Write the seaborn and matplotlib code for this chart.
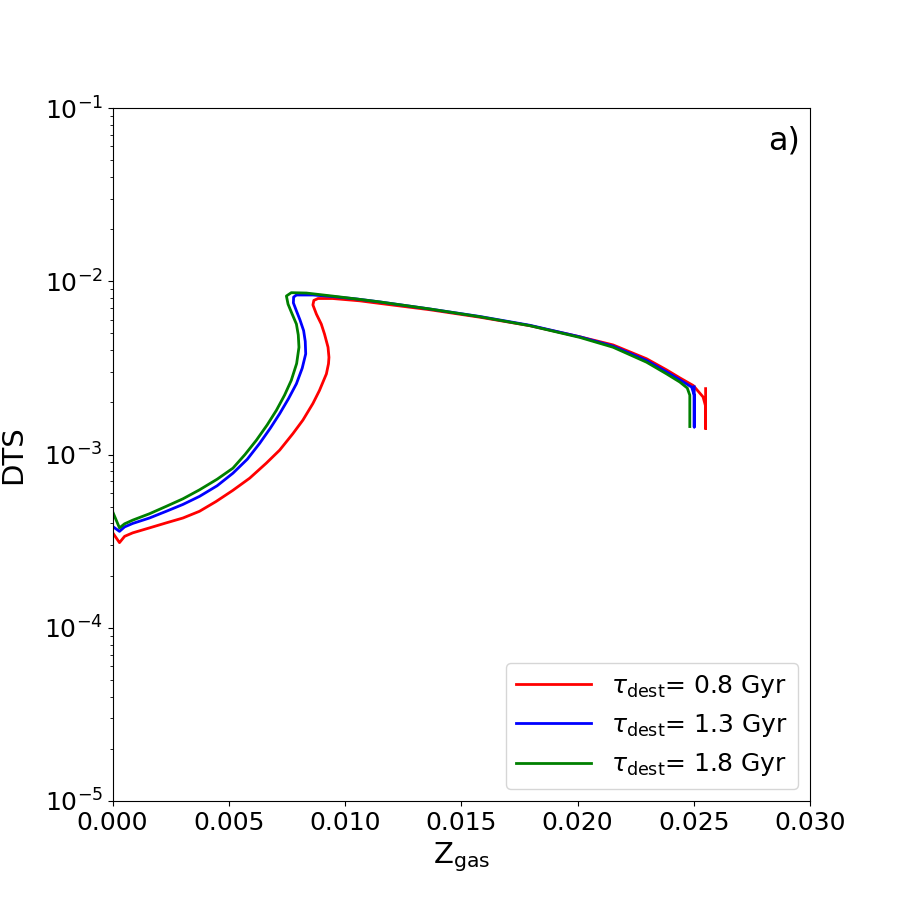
import matplotlib
matplotlib.use('Agg')

import numpy as np
import pandas as pd
import matplotlib.pyplot as plt
import seaborn as sns
from matplotlib.ticker import FormatStrFormatter

# ─────────────────────────────────────────
# 데이터
# ─────────────────────────────────────────
red_z = [0, 0, 0.0003, 0.00052, 0.00087, 0.00159, 0.00231, 0.00303, 0.00374, 0.00445,
         0.00517, 0.0059, 0.00661, 0.00719, 0.00776, 0.00819, 0.00862, 0.0089, 0.0092,
         0.00929, 0.00931, 0.00927, 0.00912, 0.00898, 0.00877, 0.00862, 0.00866, 0.00884,
         0.00947, 0.01063, 0.01149, 0.01364, 0.0158, 0.01795, 0.0201, 0.02153, 0.02297,
         0.02383, 0.0244, 0.02498, 0.0254, 0.02551, 0.02551, 0.02551]
red_dts = [1e-5, 3.55e-4, 3.1e-4, 3.37e-4, 3.53e-4, 3.77e-4, 4.03e-4, 4.3e-4, 4.7e-4, 5.35e-4,
           6.2e-4, 7.3e-4, 8.9e-4, 1.06e-3, 1.32e-3, 1.58e-3, 1.97e-3, 2.34e-3, 2.92e-3,
           3.34e-3, 3.64e-3, 4.16e-3, 4.95e-3, 5.66e-3, 6.46e-3, 7.3e-3, 7.75e-3, 7.95e-3,
           7.95e-3, 7.71e-3, 7.45e-3, 6.85e-3, 6.2e-3, 5.54e-3, 4.78e-3, 4.29e-3, 3.57e-3,
           3.08e-3, 2.77e-3, 2.5e-3, 2.15e-3, 1.9e-3, 1.41e-3, 2.4e-3]

blue_z = [0, 0, 0.0003, 0.00052, 0.00087, 0.00159, 0.00231, 0.00303, 0.00374, 0.0045,
          0.00518, 0.0058, 0.00633, 0.00679, 0.00719, 0.00757, 0.00791, 0.00816, 0.00831,
          0.00829, 0.00822, 0.00806, 0.00791, 0.00778, 0.00779, 0.00791, 0.00862, 0.0095,
          0.0105, 0.01149, 0.01364, 0.0158, 0.01795, 0.0201, 0.02153, 0.02297, 0.02383,
          0.0244, 0.02491, 0.02502, 0.02502, 0.02502]
blue_dts = [1e-5, 3.85e-4, 3.6e-4, 3.82e-4, 4.0e-4, 4.3e-4, 4.7e-4, 5.15e-4, 5.73e-4, 6.6e-4,
            7.8e-4, 9.4e-4, 1.16e-3, 1.42e-3, 1.72e-3, 2.1e-3, 2.56e-3, 3.15e-3, 3.81e-3,
            4.5e-3, 5.19e-3, 6.0e-3, 6.75e-3, 7.5e-3, 8.1e-3, 8.33e-3, 8.33e-3, 8.15e-3,
            7.9e-3, 7.6e-3, 6.92e-3, 6.26e-3, 5.57e-3, 4.78e-3, 4.22e-3, 3.49e-3, 3.0e-3,
            2.7e-3, 2.45e-3, 2.2e-3, 1.44e-3, 2.46e-3]

green_z = [0, 0, 0.0003, 0.00052, 0.00087, 0.00159, 0.00231, 0.00303, 0.00374, 0.0045,
           0.00518, 0.0057, 0.00619, 0.00665, 0.00705, 0.0074, 0.00769, 0.00792, 0.00802,
           0.00799, 0.00791, 0.00772, 0.00755, 0.00748, 0.00769, 0.00834, 0.0095, 0.0105,
           0.01149, 0.01364, 0.0158, 0.01795, 0.0201, 0.02153, 0.02297, 0.02383, 0.0244,
           0.02472, 0.02483, 0.02483]
green_dts = [1e-5, 4.7e-4, 3.77e-4, 3.98e-4, 4.18e-4, 4.55e-4, 5.02e-4, 5.55e-4, 6.25e-4, 7.2e-4,
             8.34e-4, 1.0e-3, 1.21e-3, 1.48e-3, 1.8e-3, 2.2e-3, 2.68e-3, 3.35e-3, 4.16e-3,
             4.9e-3, 5.66e-3, 6.5e-3, 7.38e-3, 8.22e-3, 8.59e-3, 8.55e-3, 8.2e-3, 7.9e-3,
             7.6e-3, 6.92e-3, 6.24e-3, 5.54e-3, 4.74e-3, 4.16e-3, 3.41e-3, 2.92e-3, 2.62e-3,
             2.42e-3, 2.2e-3, 1.45e-3]

labels = [r'$\tau_{\rm dest}$= 0.8 Gyr', r'$\tau_{\rm dest}$= 1.3 Gyr', r'$\tau_{\rm dest}$= 1.8 Gyr']
colors = ['red', 'blue', 'green']

frames = []
for lab, z, d in zip(labels, [red_z, blue_z, green_z], [red_dts, blue_dts, green_dts]):
    frames.append(pd.DataFrame({"Z": z, "DTS": d, "model": lab}))
df = pd.concat(frames, ignore_index=True)

# ─────────────────────────────────────────
# 차트
# ─────────────────────────────────────────
fig, ax = plt.subplots(figsize=(9, 9), dpi=100)
sns.lineplot(data=df, x="Z", y="DTS", hue="model", palette=colors, hue_order=labels,
             sort=False, estimator=None, units="model", linewidth=2, ax=ax)

ax.set_yscale('log')
ax.set_xlim(0, 0.03)
ax.set_ylim(1e-5, 1e-1)
ax.set_xticks([0, 0.005, 0.01, 0.015, 0.02, 0.025, 0.03])
ax.xaxis.set_major_formatter(FormatStrFormatter('%.3f'))
ax.tick_params(labelsize=18)
ax.set_xlabel(r'Z$_{\rm gas}$', fontsize=21)
ax.set_ylabel('DTS', fontsize=21, labelpad=12)
ax.text(0.985, 0.975, 'a)', transform=ax.transAxes, ha='right', va='top', fontsize=23)
ax.legend(loc='lower right', fontsize=18, title=None, handlelength=3)

plt.savefig("out.png", dpi=100)
plt.close()
